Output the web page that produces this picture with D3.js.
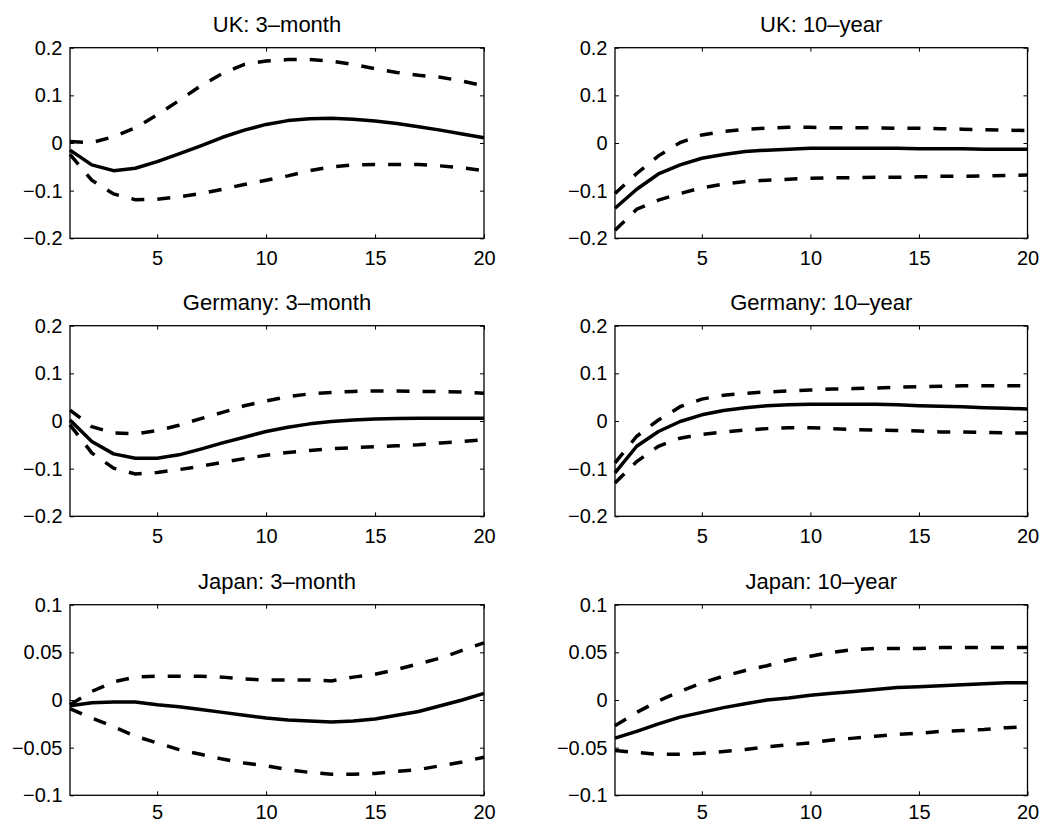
<!DOCTYPE html>
<html>
<head>
<meta charset="utf-8">
<script src="https://cdn.jsdelivr.net/npm/d3@7"></script>
<style>
  html, body { margin: 0; padding: 0; background: #fff; }
  svg { display: block; }
  text { font-family: "Liberation Sans", Arial, Helvetica, sans-serif; fill: #000; }
</style>
</head>
<body>
<svg id="chart" width="1044" height="824"></svg>
<script>
// ---------------- data ----------------
const horizons = [1,2,3,4,5,6,7,8,9,10,11,12,13,14,15,16,17,18,19,20];
const xTicks = [5, 10, 15, 20];

const yTicksWide = [-0.2, -0.1, 0, 0.1, 0.2];
const yTickLabelsWide = ["\u22120.2", "\u22120.1", "0", "0.1", "0.2"];
const yTicksNarrow = [-0.1, -0.05, 0, 0.05, 0.1];
const yTickLabelsNarrow = ["\u22120.1", "\u22120.05", "0", "0.05", "0.1"];

const titles = ["UK: 3\u2013month", "UK: 10\u2013year",
                "Germany: 3\u2013month", "Germany: 10\u2013year",
                "Japan: 3\u2013month", "Japan: 10\u2013year"];

const uk3Irf   = [-0.015,-0.046,-0.058,-0.053,-0.039,-0.023,-0.006,0.012,0.027,0.039,0.047,0.051,0.052,0.050,0.046,0.041,0.034,0.027,0.019,0.011];
const uk3Upper = [0.003,0.001,0.013,0.032,0.059,0.089,0.120,0.146,0.165,0.172,0.175,0.175,0.172,0.165,0.156,0.148,0.142,0.138,0.130,0.120];
const uk3Lower = [-0.024,-0.078,-0.107,-0.119,-0.118,-0.113,-0.106,-0.097,-0.087,-0.078,-0.069,-0.058,-0.050,-0.046,-0.045,-0.045,-0.045,-0.048,-0.052,-0.058];

const uk10Irf   = [-0.137,-0.097,-0.065,-0.046,-0.032,-0.024,-0.018,-0.015,-0.013,-0.011,-0.011,-0.011,-0.011,-0.011,-0.012,-0.012,-0.012,-0.013,-0.013,-0.013];
const uk10Upper = [-0.106,-0.064,-0.027,0.001,0.017,0.024,0.029,0.031,0.033,0.033,0.032,0.032,0.032,0.031,0.031,0.030,0.029,0.028,0.027,0.026];
const uk10Lower = [-0.183,-0.139,-0.120,-0.106,-0.094,-0.086,-0.081,-0.078,-0.076,-0.074,-0.073,-0.073,-0.072,-0.072,-0.071,-0.070,-0.070,-0.069,-0.068,-0.067];

const de3Irf   = [0.002,-0.043,-0.069,-0.078,-0.078,-0.071,-0.059,-0.046,-0.034,-0.022,-0.013,-0.006,-0.001,0.002,0.004,0.005,0.006,0.006,0.006,0.006];
const de3Upper = [0.023,-0.012,-0.025,-0.027,-0.020,-0.009,0.005,0.018,0.032,0.042,0.051,0.057,0.060,0.062,0.063,0.063,0.062,0.062,0.061,0.058];
const de3Lower = [-0.008,-0.067,-0.099,-0.111,-0.108,-0.102,-0.095,-0.087,-0.079,-0.072,-0.066,-0.062,-0.058,-0.056,-0.054,-0.052,-0.050,-0.046,-0.043,-0.039];

const de10Irf   = [-0.109,-0.053,-0.022,-0.001,0.013,0.022,0.028,0.032,0.034,0.035,0.035,0.035,0.035,0.034,0.032,0.031,0.030,0.028,0.027,0.025];
const de10Upper = [-0.088,-0.032,0.002,0.030,0.046,0.054,0.058,0.061,0.063,0.065,0.067,0.068,0.069,0.071,0.072,0.073,0.074,0.074,0.074,0.074];
const de10Lower = [-0.130,-0.085,-0.053,-0.036,-0.028,-0.023,-0.019,-0.016,-0.014,-0.014,-0.016,-0.018,-0.019,-0.020,-0.021,-0.023,-0.023,-0.024,-0.025,-0.025];

const jp3Irf   = [-0.006,-0.003,-0.002,-0.002,-0.005,-0.007,-0.010,-0.013,-0.016,-0.019,-0.021,-0.022,-0.023,-0.022,-0.020,-0.016,-0.012,-0.006,0.000,0.007];
const jp3Upper = [-0.005,0.009,0.019,0.024,0.025,0.025,0.025,0.024,0.022,0.021,0.021,0.021,0.020,0.024,0.027,0.032,0.038,0.044,0.052,0.060];
const jp3Lower = [-0.009,-0.019,-0.028,-0.038,-0.045,-0.052,-0.057,-0.062,-0.066,-0.069,-0.073,-0.076,-0.078,-0.078,-0.077,-0.075,-0.073,-0.069,-0.065,-0.060];

const jp10Irf   = [-0.040,-0.033,-0.025,-0.018,-0.013,-0.008,-0.004,0.000,0.002,0.005,0.007,0.009,0.011,0.013,0.014,0.015,0.016,0.017,0.018,0.018];
const jp10Upper = [-0.027,-0.013,-0.001,0.009,0.018,0.025,0.031,0.036,0.042,0.046,0.050,0.053,0.054,0.054,0.054,0.055,0.055,0.055,0.055,0.055];
const jp10Lower = [-0.053,-0.055,-0.057,-0.057,-0.056,-0.054,-0.052,-0.049,-0.047,-0.045,-0.042,-0.040,-0.038,-0.036,-0.035,-0.033,-0.032,-0.031,-0.029,-0.028];

// ---------------- layout ----------------
const colX = [[70, 484], [615, 1027.5]];
const rowY = [47.7, 325.7, 604.7];
const rowXPad = [13, 13, 10];
const panelH = 190.6;

const panels = [
  {title: titles[0], irf: uk3Irf,  up: uk3Upper,  lo: uk3Lower,  row: 0, col: 0, narrow: false},
  {title: titles[1], irf: uk10Irf, up: uk10Upper, lo: uk10Lower, row: 0, col: 1, narrow: false},
  {title: titles[2], irf: de3Irf,  up: de3Upper,  lo: de3Lower,  row: 1, col: 0, narrow: false},
  {title: titles[3], irf: de10Irf, up: de10Upper, lo: de10Lower, row: 1, col: 1, narrow: false},
  {title: titles[4], irf: jp3Irf,  up: jp3Upper,  lo: jp3Lower,  row: 2, col: 0, narrow: true},
  {title: titles[5], irf: jp10Irf, up: jp10Upper, lo: jp10Lower, row: 2, col: 1, narrow: true}
];

const svg = d3.select("#chart");
const TICK_FONT = 20, TITLE_FONT = 22;

panels.forEach(p => {
  const [x0, x1] = colX[p.col];
  const y0 = rowY[p.row], y1 = y0 + panelH;
  const yTicks = p.narrow ? yTicksNarrow : yTicksWide;
  const yLabels = p.narrow ? yTickLabelsNarrow : yTickLabelsWide;
  const yDom = [yTicks[0], yTicks[yTicks.length - 1]];

  const x = d3.scaleLinear().domain([horizons[0], horizons[horizons.length - 1]]).range([x0, x1]);
  const y = d3.scaleLinear().domain(yDom).range([y1, y0]);

  const g = svg.append("g");

  // axes (inward ticks, MATLAB style box)
  const bottom = d3.axisBottom(x).tickValues(xTicks).tickSizeInner(-4).tickSizeOuter(0).tickPadding(rowXPad[p.row]);
  const top = d3.axisTop(x).tickValues(xTicks).tickSizeInner(-4).tickSizeOuter(0).tickFormat("");
  const left = d3.axisLeft(y).tickValues(yTicks).tickSizeInner(-4).tickSizeOuter(0).tickPadding(7.5)
                 .tickFormat((d, i) => yLabels[i]);
  const right = d3.axisRight(y).tickValues(yTicks).tickSizeInner(-4).tickSizeOuter(0).tickFormat("");

  const gb = g.append("g").attr("transform", `translate(0,${y1})`).call(bottom);
  const gt = g.append("g").attr("transform", `translate(0,${y0})`).call(top);
  const gl = g.append("g").attr("transform", `translate(${x0},0)`).call(left);
  const gr = g.append("g").attr("transform", `translate(${x1},0)`).call(right);

  [gb, gt, gl, gr].forEach(a => {
    a.selectAll("path.domain").remove();
    a.selectAll("line").attr("stroke", "#000").attr("stroke-width", 1);
    a.selectAll("text").attr("font-size", TICK_FONT)
      .attr("font-family", '"Liberation Sans", Arial, Helvetica, sans-serif').attr("fill", "#000");
  });

  // series lines
  const line = d3.line().x((d, i) => x(horizons[i])).y(d => y(d)).curve(d3.curveLinear);
  g.append("path").datum(p.up).attr("d", line)
    .attr("fill", "none").attr("stroke", "#000").attr("stroke-width", 3.5)
    .attr("stroke-dasharray", "13,13");
  g.append("path").datum(p.lo).attr("d", line)
    .attr("fill", "none").attr("stroke", "#000").attr("stroke-width", 3.5)
    .attr("stroke-dasharray", "13,13");
  g.append("path").datum(p.irf).attr("d", line)
    .attr("fill", "none").attr("stroke", "#000").attr("stroke-width", 3.5)
    .attr("stroke-linejoin", "round");

  // box
  g.append("rect").attr("x", x0).attr("y", y0).attr("width", x1 - x0).attr("height", y1 - y0)
    .attr("fill", "none").attr("stroke", "#000").attr("stroke-width", 1.3);

  // title
  g.append("text").attr("x", (x0 + x1) / 2).attr("y", y0 - 16)
    .attr("text-anchor", "middle").attr("font-size", TITLE_FONT).text(p.title);
});
</script>
</body>
</html>
